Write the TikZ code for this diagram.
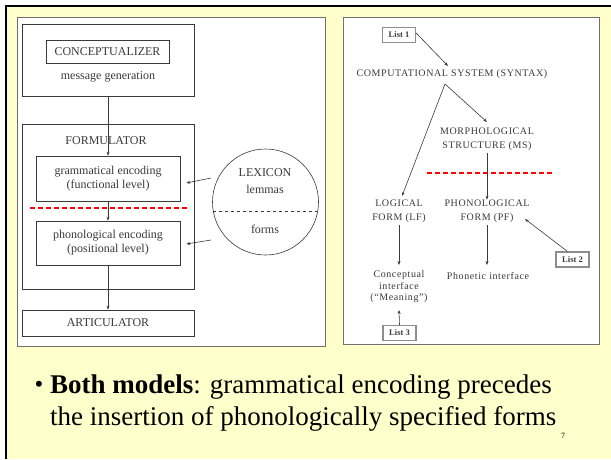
\documentclass[tikz,border=0pt]{standalone}
\usepackage{fontspec}
\setmainfont{Liberation Serif}
\usetikzlibrary{arrows.meta}
\definecolor{slideyellow}{HTML}{FFFFCC}
\definecolor{ink}{HTML}{3A3A3A}
\definecolor{frame}{HTML}{707070}

\begin{document}
\begin{tikzpicture}[
  x=1pt, y=-1pt,
  >={Stealth[length=4pt,width=3pt]},
  every node/.style={text=ink, inner sep=0pt},
  panel/.style={draw=frame, fill=white, line width=0.8pt},
  box/.style={draw=ink, line width=0.6pt, minimum width=#1},
  lbl/.style={font=\fontsize{12}{14}\selectfont, align=center},
  caps/.style={font=\fontsize{10}{13.5}\selectfont\addfontfeatures{LetterSpace=6}, align=center},
  small/.style={font=\fontsize{10}{11.5}\selectfont\addfontfeatures{LetterSpace=6}, align=center},
  listbox/.style={draw=frame!80, line width=1.3pt, font=\fontsize{8.5}{9}\selectfont\bfseries, minimum width=33pt, minimum height=15pt},
  link/.style={->, draw=ink, line width=0.6pt},
  cut/.style={red, line width=1.6pt, dash pattern=on 5pt off 3pt},
  slide/.style={anchor=base west, text=black, font=\fontsize{27}{32}\selectfont}
]
\useasboundingbox (0,0) rectangle (611,459);
% slide background
\fill[slideyellow] (6,6) rectangle (611,459);
\draw[black, line width=2.6pt] (6,459) -- (6,6) -- (611,6);

% left model
\draw[panel] (17,17) rectangle (325,346);
\node[box=172pt, minimum height=72pt] (concbox) at (108,60) {};
\node[box=123pt, minimum height=23pt, lbl] (conc) at (107.5,51.5) {CONCEPTUALIZER};
\node[lbl] (msg) at (108,77) {message generation};
\node[box=172pt, minimum height=165pt] (formbox) at (108,206.5) {};
\node[lbl] (form) at (106,141) {FORMULATOR};
\node[box=144pt, minimum height=45pt, lbl] (gram) at (108,178.5) {grammatical encoding\\(functional level)};
\node[box=144pt, minimum height=44pt, lbl] (phon) at (108,243) {phonological encoding\\(positional level)};
\node[box=172pt, minimum height=26pt, lbl] (artic) at (108,323) {ARTICULATOR};
\draw[cut] (30,208) -- (189,208);
\node[circle, draw=ink, line width=0.6pt, minimum size=106pt] (lex) at (265.5,202) {};
\node[lbl] (lexname) at (265,173) {LEXICON};
\node[lbl] (lemmas) at (265,189) {lemmas};
\node[lbl] (forms) at (265,229) {forms};
\draw[ink, dashed, line width=0.6pt] (lex.west |- 0,211) ++(0.8,0) -- ++(104.4,0);
\coordinate (lexA) at (211,178);
\coordinate (lexB) at (211,240);
\draw[link] (lexA) -- ([xshift=6pt,yshift=-4.5pt]gram.east);
\draw[link] (lexB) -- ([xshift=6pt,yshift=-1pt]phon.east);
\draw[link] (concbox.south) -- (gram.north);
\draw[link] (gram.south) -- (phon.north);
\draw[link] (phon.south) -- (artic.north);

% right model
\draw[panel] (343,17) rectangle (599,344);
\node[listbox] (list1) at (399,35) {List 1};
\node[caps] (syntax) at (452,74) {COMPUTATIONAL SYSTEM (SYNTAX)};
\node[caps] (ms) at (487,139) {MORPHOLOGICAL\\STRUCTURE (MS)};
\node[caps] (lf) at (399,211) {LOGICAL\\FORM (LF)};
\node[caps] (pf) at (487,211) {PHONOLOGICAL\\FORM (PF)};
\node[listbox] (list2) at (572.5,259.5) {List 2};
\node[small] (concint) at (399,287) {Conceptual\\interface\\(``Meaning'')};
\node[small] (phonint) at (488,276) {Phonetic interface};
\node[listbox] (list3) at (399.5,333) {List 3};
\draw[cut] (427,173) -- (553,173);
\coordinate (split) at (445,84);
\draw[link] ([yshift=2pt]list1.east) -- (448,66);
\draw[link] (split) -- (402,196);
\draw[link] (split) -- (487,122);
\draw[link] (487,153) -- (pf.north);
\draw[link] (list2.north west) ++(12,0) -- (525,219);
\draw[link] (lf.south) ++(0,3) -- (399,265);
\draw[link] (pf.south) ++(0,3) -- (487,265);
\draw[link] (list3.north) -- (399,310);

% bullet text
\node[slide, font=\fontsize{25}{30}\selectfont] (bul) at (34.5,392) {\textbullet};
\node[slide] (line1) at (50,393) {\textbf{Both models}: grammatical encoding precedes};
\node[slide] (line2) at (50,425) {the insertion of phonologically specified forms};
\node[anchor=base, text=black, font=\fontsize{8}{9}\selectfont] (pageno) at (563,438) {7};
\end{tikzpicture}
\end{document}
